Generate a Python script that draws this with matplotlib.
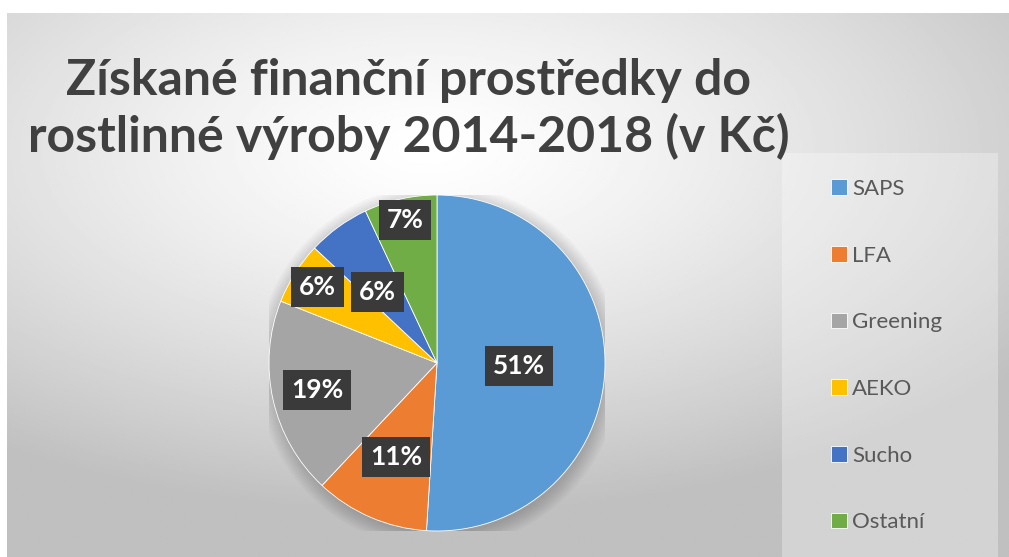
import matplotlib.pyplot as plt
import numpy as np
from matplotlib.patches import Rectangle, Circle

categories = ['SAPS', 'LFA', 'Greening', 'AEKO', 'Sucho', 'Ostatní']
shares = [51, 11, 19, 6, 6, 7]
colors = ['#5B9BD5', '#ED7D31', '#A5A5A5', '#FFC000', '#4472C4', '#70AD47']
title_lines = ['Získané finanční prostředky do', 'rostlinné výroby 2014-2018 (v Kč)']

W, H = 1009, 557
fig = plt.figure(figsize=(W / 100, H / 100), dpi=100)
fig.patch.set_facecolor('white')

# gradient background of the chart area
bg = fig.add_axes([7 / W, 0, 1 - 7 / W, 1 - 13 / H])
bg.set_axis_off()
yy, xx = np.mgrid[0:1:300j, 0:1:540j]
d = np.sqrt(((xx - 0.42) / 1.0) ** 2 + ((yy - 0.25) / 0.9) ** 2)
g = 1.0 - 0.25 * np.clip(d / 0.75, 0, 1) ** 1.3
bg.imshow(g, cmap='gray', vmin=0, vmax=1, aspect='auto', extent=[0, 1, 0, 1], origin='upper')
bg.set_xlim(0, 1)
bg.set_ylim(0, 1)

# legend panel
fig.patches.append(Rectangle((782 / W, 0), 216 / W, (H - 153) / H, transform=fig.transFigure,
                             facecolor='white', alpha=0.3, edgecolor='none', zorder=1))

for line, base in zip(title_lines, [95, 152]):
    fig.text(409 / W, 1 - base / H, line, ha='center', va='baseline', fontsize=36,
             fontweight='bold', color='#404040', family='Lato')

cx, cy, r = 437, 363, 168
ax = fig.add_axes([(cx - r) / W, (H - cy - r) / H, 2 * r / W, 2 * r / H])
ax.set_axis_off()

# soft shadow
for k in range(8):
    ax.add_patch(Circle((0.01, -0.02), 1.0 + 0.012 * k, color='black', alpha=0.025, lw=0, zorder=0))

wedges, _ = ax.pie(shares, colors=colors, startangle=90, counterclock=False, radius=1,
                   wedgeprops=dict(edgecolor='white', linewidth=0.6, zorder=2))
ax.set_xlim(-1, 1)
ax.set_ylim(-1, 1)

label_dist = [0.49, 0.61, 0.73, 0.84, 0.55, 0.87]
label_shift = [0, 0, 0, 0, 4, 0]
for w, v, dist, sh in zip(wedges, shares, label_dist, label_shift):
    ang = np.deg2rad((w.theta1 + w.theta2) / 2 + sh)
    ax.text(dist * np.cos(ang), dist * np.sin(ang), f'{v}%', ha='center', va='center',
            color='white', fontsize=19, fontweight='bold', family='Lato', zorder=5,
            bbox=dict(boxstyle='square,pad=0.3', facecolor='#3a3a3a', edgecolor='none'))

leg = fig.legend(wedges, categories, loc='upper left', bbox_to_anchor=(831 / W, 1 - 179 / H),
                 frameon=False, labelspacing=2.1, handlelength=0.7, handleheight=0.7,
                 handletextpad=0.25, borderpad=0, borderaxespad=0,
                 prop=dict(family='Lato', size=16))
for t in leg.get_texts():
    t.set_color('#595959')

fig.savefig('out.png', dpi=100)
